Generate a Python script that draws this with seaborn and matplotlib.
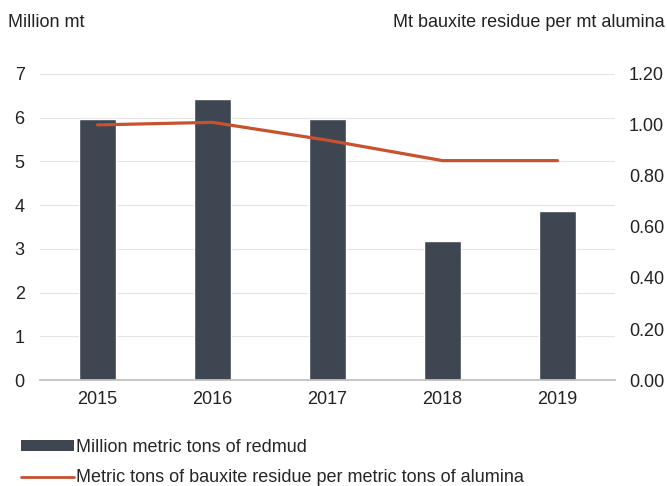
import matplotlib
matplotlib.use("Agg")
import matplotlib.pyplot as plt
import seaborn as sns
import pandas as pd
from matplotlib.patches import Patch
from matplotlib.lines import Line2D

years = ["2015", "2016", "2017", "2018", "2019"]
redmud_mt = [5.96, 6.43, 5.97, 3.18, 3.87]
residue_ratio = [1.00, 1.01, 0.94, 0.86, 0.86]

sns.set_theme(style="white")
plt.rcParams["font.family"] = ["Liberation Sans", "DejaVu Sans"]

df = pd.DataFrame({"year": years, "redmud": redmud_mt, "ratio": residue_ratio})

fig = plt.figure(figsize=(6.67, 4.86), dpi=100)
ax = fig.add_axes([0.06, 0.218, 0.862, 0.63])
bar_color = "#3e4651"
line_color = "#c8512f"
fs = 13

sns.barplot(data=df, x="year", y="redmud", color=bar_color, width=0.33, ax=ax, saturation=1)
ax.set_ylim(0, 7)
ax.set_yticks(range(0, 8))
ax.yaxis.grid(True, color="#e4e4e4", linewidth=0.8)
ax.set_axisbelow(True)
for s in ["top", "right", "left"]:
    ax.spines[s].set_visible(False)
ax.spines["bottom"].set_color("#bfbfbf")
ax.set_xlabel("")
ax.set_ylabel("")
ax.tick_params(axis="y", labelsize=fs, colors="#222222", length=0, pad=11)
ax.tick_params(axis="x", labelsize=fs, colors="#222222", length=0, pad=8)
ax.set_xlim(-0.5, 4.5)

ax2 = ax.twinx()
sns.lineplot(x=list(range(len(years))), y=residue_ratio, color=line_color, linewidth=2.3, ax=ax2)
ax2.set_ylim(0, 1.2)
ticks2 = [0, 0.2, 0.4, 0.6, 0.8, 1.0, 1.2]
ax2.set_yticks(ticks2)
ax2.set_yticklabels([f"{v:.2f}" for v in ticks2])
for s in ["top", "right", "left", "bottom"]:
    ax2.spines[s].set_visible(False)
ax2.tick_params(axis="y", labelsize=fs, colors="#222222", length=0, pad=10)
ax2.set_xlim(-0.5, 4.5)

fig.text(0.012, 0.953, "Million mt", fontsize=fs, color="#222222", va="center", ha="left")
fig.text(0.997, 0.953, "Mt bauxite residue per mt alumina", fontsize=fs, color="#222222", va="center", ha="right")

handles = [Patch(facecolor=bar_color, edgecolor="none"),
           Line2D([0], [0], color=line_color, linewidth=2)]
labels = ["Million metric tons of redmud",
          "Metric tons of bauxite residue per metric tons of alumina"]
fig.legend(handles, labels, loc="lower left", bbox_to_anchor=(0.012, -0.027), frameon=False,
           fontsize=fs, handlelength=2.95, handleheight=0.5, handletextpad=0.1,
           labelspacing=0.75, borderaxespad=0.3)

fig.savefig("out.png", dpi=100)
